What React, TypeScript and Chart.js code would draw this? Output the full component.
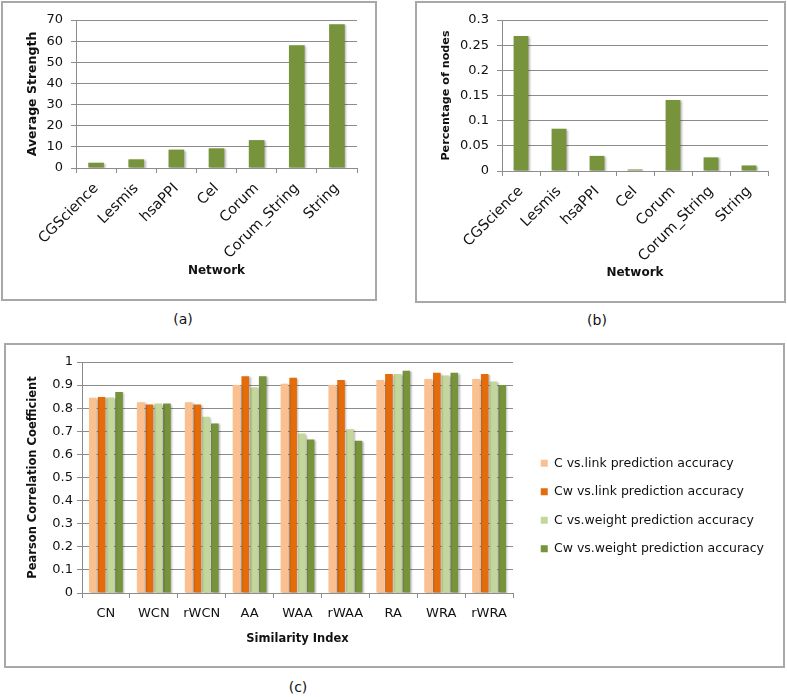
import React, { useEffect, useRef } from "react";
import { Chart, registerables } from "chart.js";

Chart.register(...registerables);

// ---------- data ----------
const networks = ["CGScience", "Lesmis", "hsaPPI", "Cel", "Corum", "Corum_String", "String"];
const avgStrength = [2.5, 4.1, 8.7, 9.3, 13.2, 58, 68];
const pctNodes = [0.268, 0.084, 0.03, 0.003, 0.141, 0.027, 0.011];

const yTicksA = [0, 10, 20, 30, 40, 50, 60, 70];
const yTickLabelsA = ["0", "10", "20", "30", "40", "50", "60", "70"];
const yTicksB = [0, 0.05, 0.1, 0.15, 0.2, 0.25, 0.3];
const yTickLabelsB = ["0", "0.05", "0.1", "0.15", "0.2", "0.25", "0.3"];

const indices = ["CN", "WCN", "rWCN", "AA", "WAA", "rWAA", "RA", "WRA", "rWRA"];
const cLink = [0.845, 0.826, 0.826, 0.9, 0.906, 0.9, 0.922, 0.926, 0.926];
const cwLink = [0.849, 0.816, 0.816, 0.938, 0.932, 0.922, 0.948, 0.954, 0.948];
const cWeight = [0.846, 0.82, 0.763, 0.89, 0.69, 0.709, 0.948, 0.942, 0.916];
const cwWeight = [0.87, 0.82, 0.734, 0.938, 0.665, 0.659, 0.962, 0.954, 0.9];
const seriesLabels = [
  "C vs.link prediction accuracy",
  "Cw vs.link prediction accuracy",
  "C vs.weight prediction accuracy",
  "Cw vs.weight prediction accuracy",
];
const yTicksC = [0, 0.1, 0.2, 0.3, 0.4, 0.5, 0.6, 0.7, 0.8, 0.9, 1];
const yTickLabelsC = ["0", "0.1", "0.2", "0.3", "0.4", "0.5", "0.6", "0.7", "0.8", "0.9", "1"];

// ---------- styles ----------
const FONT = "'DejaVu Sans', sans-serif";
const GRID = "#8c8c8c";
const TEXT = "#111111";
const GREEN = "#77933C";
const COLORS = ["#FAC090", "#E46C0A", "#C3D69B", "#77933C"];

const shadowPlugin = {
  id: "barShadow",
  beforeDatasetsDraw(chart: any) {
    const ctx = chart.ctx;
    ctx.save();
    ctx.shadowColor = "rgba(0,0,0,0.28)";
    ctx.shadowOffsetX = 1.5;
    ctx.shadowOffsetY = 1;
    ctx.shadowBlur = 2;
  },
  afterDatasetsDraw(chart: any) {
    chart.ctx.restore();
  },
};

function useChart(ref: React.RefObject<HTMLCanvasElement>, make: () => any) {
  useEffect(() => {
    if (!ref.current) return;
    const chart = new Chart(ref.current, make());
    return () => chart.destroy();
  }, []);
}

function smallBarConfig(
  values: number[],
  ticks: number[],
  tickLabels: string[],
  yMax: number,
  yTitle: string,
  yTitleSize: number,
  yAxisWidth: number,
  padRight: number,
  xAxisHeight: number,
  xTitlePadBottom: number
) {
  return {
    type: "bar",
    data: {
      labels: networks,
      datasets: [
        {
          data: values,
          backgroundColor: GREEN,
          borderWidth: 0,
          categoryPercentage: 1,
          barPercentage: 0.39,
        },
      ],
    },
    plugins: [shadowPlugin],
    options: {
      responsive: false,
      animation: false,
      devicePixelRatio: 1,
      layout: { padding: { top: 17, left: 0, right: padRight, bottom: 0 } },
      plugins: { legend: { display: false }, tooltip: { enabled: false } },
      scales: {
        x: {
          grid: { drawOnChartArea: false, drawTicks: true, tickLength: 5, color: GRID, offset: true },
          border: { display: true, color: GRID, width: 1 },
          ticks: {
            minRotation: 45,
            maxRotation: 45,
            color: TEXT,
            padding: 7,
            font: { family: FONT, size: 14.5 },
          },
          title: {
            display: true,
            text: "Network",
            color: TEXT,
            font: { family: FONT, size: 12, weight: "bold" },
            padding: { top: 0, bottom: xTitlePadBottom },
          },
          afterFit: (s: any) => {
            s.height = xAxisHeight;
          },
        },
        y: {
          min: 0,
          max: yMax,
          afterBuildTicks: (s: any) => {
            s.ticks = ticks.map((v) => ({ value: v }));
          },
          grid: { color: GRID, tickLength: 5, drawTicks: true },
          border: { display: true, color: GRID, width: 1 },
          ticks: {
            color: TEXT,
            padding: 8,
            font: { family: FONT, size: 13 },
            callback: (_v: any, i: number) => tickLabels[i],
          },
          title: {
            display: true,
            text: yTitle,
            color: TEXT,
            font: { family: FONT, size: yTitleSize, weight: "bold" },
            padding: { top: 22, bottom: 0 },
          },
          afterFit: (s: any) => {
            s.width = yAxisWidth;
          },
        },
      },
    },
  };
}

function ChartA() {
  const ref = useRef<HTMLCanvasElement>(null);
  useChart(ref, () =>
    smallBarConfig(avgStrength, yTicksA, yTickLabelsA, 70, "Average Strength", 12.5, 73, 18, 131, 21)
  );
  return (
    <canvas
      ref={ref}
      width={372}
      height={296}
      style={{ position: "absolute", left: 3, top: 3, width: 372, height: 296 }}
    />
  );
}

function ChartB() {
  const ref = useRef<HTMLCanvasElement>(null);
  useChart(ref, () =>
    smallBarConfig(pctNodes, yTicksB, yTickLabelsB, 0.3, "Percentage of nodes", 11.2, 85, 15, 129, 20)
  );
  return (
    <canvas
      ref={ref}
      width={366}
      height={297}
      style={{ position: "absolute", left: 417, top: 3, width: 366, height: 297 }}
    />
  );
}

const PLOT_RIGHT_C = 507;
const PAD_RIGHT_C = 8;

function ChartC() {
  const ref = useRef<HTMLCanvasElement>(null);
  useChart(ref, () => ({
    type: "bar",
    data: {
      labels: indices,
      datasets: [cLink, cwLink, cWeight, cwWeight].map((d, i) => ({
        label: seriesLabels[i],
        data: d,
        backgroundColor: COLORS[i],
        borderWidth: 0,
        categoryPercentage: 0.73,
        barPercentage: 0.87,
      })),
    },
    plugins: [shadowPlugin],
    options: {
      responsive: false,
      animation: false,
      devicePixelRatio: 1,
      layout: { padding: { top: 17, left: 0, right: PAD_RIGHT_C, bottom: 16 } },
      plugins: {
        tooltip: { enabled: false },
        legend: {
          position: "right",
          align: "center",
          maxWidth: 400,
          labels: {
            boxWidth: 7,
            boxHeight: 7,
            padding: 16,
            color: TEXT,
            font: { family: FONT, size: 12.5 },
          },
        },
      },
      scales: {
        x: {
          grid: { drawOnChartArea: false, drawTicks: true, tickLength: 5, color: GRID, offset: true },
          border: { display: true, color: GRID, width: 1 },
          ticks: { color: TEXT, padding: 8, maxRotation: 0, font: { family: FONT, size: 13 } },
          title: {
            display: true,
            text: "Similarity Index",
            color: TEXT,
            font: { family: FONT, size: 11.5, weight: "bold" },
            padding: { top: 0, bottom: 4 },
          },
          afterFit: (s: any) => {
            s.height = 57;
          },
        },
        y: {
          min: 0,
          max: 1,
          afterBuildTicks: (s: any) => {
            s.ticks = yTicksC.map((v) => ({ value: v }));
          },
          grid: { color: GRID, tickLength: 5, drawTicks: true },
          border: { display: true, color: GRID, width: 1 },
          ticks: {
            color: TEXT,
            padding: 4,
            font: { family: FONT, size: 13 },
            callback: (_v: any, i: number) => yTickLabelsC[i],
          },
          title: {
            display: true,
            text: "Pearson Correlation Coefficient",
            color: TEXT,
            font: { family: FONT, size: 11.5, weight: "bold" },
            padding: { top: 20, bottom: 0 },
          },
          afterFit: (s: any) => {
            s.width = 76;
          },
        },
        gap: {
          type: "linear",
          position: "right",
          display: true,
          grid: { display: false },
          border: { display: false },
          ticks: { display: false },
          afterFit: (s: any) => {
            const ch = s.chart;
            const lw = ch.legend ? ch.legend.width : 0;
            s.width = Math.max(0, ch.width - PAD_RIGHT_C - lw - PLOT_RIGHT_C);
          },
        },
      },
    },
  }));
  return (
    <canvas
      ref={ref}
      width={776}
      height={321}
      style={{ position: "absolute", left: 6, top: 345, width: 776, height: 321 }}
    />
  );
}

const boxStyle = (left: number, top: number, width: number, height: number): React.CSSProperties => ({
  position: "absolute",
  left,
  top,
  width,
  height,
  boxSizing: "border-box",
  border: "2px solid #a8a8a8",
  background: "#fff",
});

const capStyle = (cx: number, cy: number): React.CSSProperties => ({
  position: "absolute",
  left: cx - 30,
  top: cy - 10,
  width: 60,
  height: 20,
  lineHeight: "20px",
  textAlign: "center",
  fontFamily: FONT,
  fontSize: 14,
  color: TEXT,
});

export default function App() {
  return (
    <div
      style={{
        position: "fixed",
        left: 0,
        top: 0,
        width: 787,
        height: 697,
        background: "#fff",
        overflow: "hidden",
      }}
    >
      <div style={boxStyle(1, 1, 376, 300)} />
      <div style={boxStyle(415, 1, 371, 302)} />
      <div style={boxStyle(4, 343, 781, 325)} />
      <ChartA />
      <ChartB />
      <ChartC />
      <div style={capStyle(183, 319)}>(a)</div>
      <div style={capStyle(597, 320)}>(b)</div>
      <div style={capStyle(298, 687)}>(c)</div>
    </div>
  );
}
